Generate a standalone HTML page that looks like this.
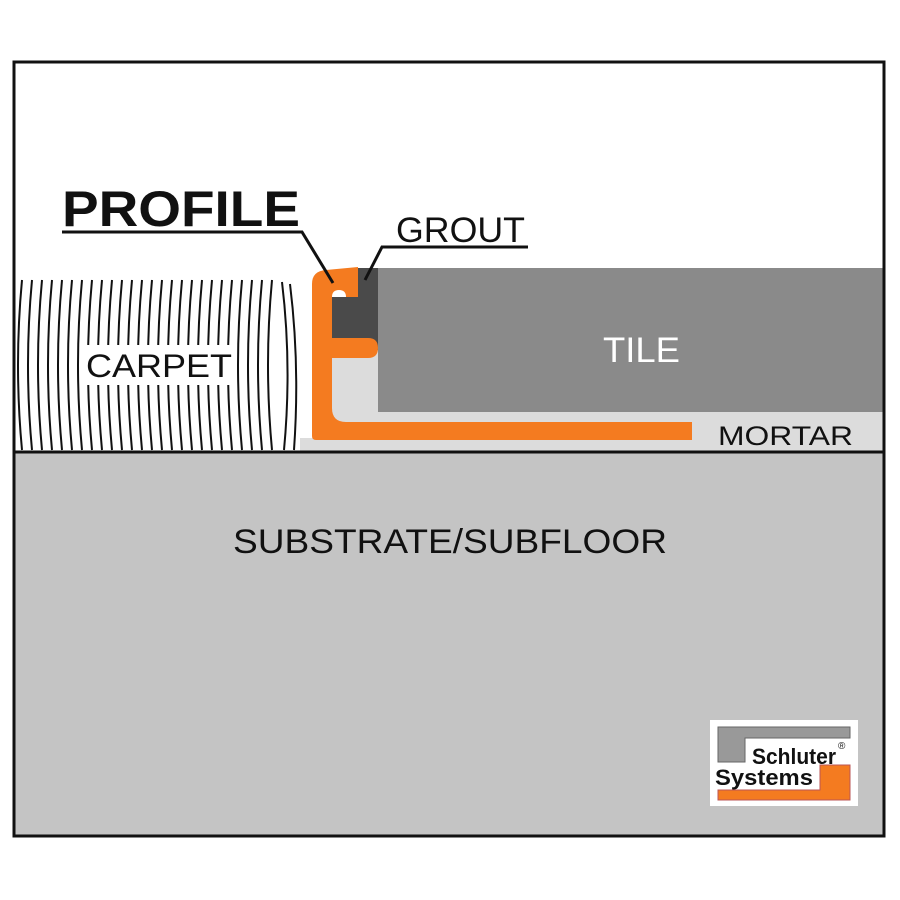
<!DOCTYPE html>
<html><head><style>body{margin:0;background:#fff}svg{display:block}</style></head><body>
<svg width="900" height="900" viewBox="0 0 900 900" xmlns="http://www.w3.org/2000/svg" font-family="Liberation Sans, sans-serif">
<rect x="0" y="0" width="900" height="900" fill="#fff"/>
<rect x="14" y="452" width="870" height="384" fill="#c4c4c4"/>
<rect x="332" y="350" width="552" height="102" fill="#dcdcdc"/>
<rect x="300" y="438" width="40" height="14" fill="#dcdcdc"/>
<rect x="378" y="268" width="506" height="144" fill="#8a8a8a"/>
<rect x="358" y="268" width="20" height="82" fill="#4a4a4a"/>
<path d="M332,297 L358,297 L358,338 L332,338 Z" fill="#4a4a4a"/>
<path d="M326,270 L358,267 L358,297 L346,297 Q346,290 339,290 Q332,290 332,297 L332,338 L368,338 Q378,338 378,348 Q378,358 368,358 L332,358 L332,408 Q332,422 346,422 L692,422 L692,440 L316,440 Q312,440 312,436 L312,284 Q312,271 326,270 Z" fill="#f47b20"/>
<g fill="none" stroke="#111" stroke-width="2">
<path d="M22,280 Q14,365 22,450"/><path d="M32,280 Q24,365 32,450"/><path d="M42,280 Q34,365 42,450"/><path d="M52,280 Q44,365 52,450"/><path d="M62,280 Q54,365 62,450"/><path d="M72,280 Q64,365 72,450"/><path d="M82,280 Q74,365 82,450"/><path d="M92,280 Q84,365 92,450"/><path d="M102,280 Q94,365 102,450"/><path d="M112,280 Q104,365 112,450"/><path d="M122,280 Q114,365 122,450"/><path d="M132,280 Q124,365 132,450"/><path d="M142,280 Q134,365 142,450"/><path d="M152,280 Q144,365 152,450"/><path d="M162,280 Q154,365 162,450"/><path d="M172,280 Q164,365 172,450"/><path d="M182,280 Q174,365 182,450"/><path d="M192,280 Q184,365 192,450"/><path d="M202,280 Q194,365 202,450"/><path d="M212,280 Q204,365 212,450"/><path d="M222,280 Q214,365 222,450"/><path d="M232,280 Q224,365 232,450"/><path d="M242,280 Q234,365 242,450"/><path d="M252,280 Q244,365 252,450"/><path d="M262,280 Q254,365 262,450"/><path d="M272,280 Q264,365 272,450"/><path d="M282,282 Q292,365 284,450"/><path d="M290,284 Q300,365 294,450"/>
</g>
<rect x="82" y="345" width="154" height="40" fill="#fff"/>
<text x="86" y="377" font-size="32" fill="#111" textLength="146" lengthAdjust="spacingAndGlyphs">CARPET</text>
<rect x="14" y="62" width="870" height="774" fill="none" stroke="#111" stroke-width="3"/>
<line x1="14" y1="452" x2="884" y2="452" stroke="#111" stroke-width="3"/>
<text x="62" y="226" font-size="50" font-weight="bold" fill="#111" textLength="238" lengthAdjust="spacingAndGlyphs">PROFILE</text>
<polyline points="62,232 302,232 333,283" fill="none" stroke="#111" stroke-width="3"/>
<text x="396" y="242" font-size="35" fill="#111" textLength="129" lengthAdjust="spacingAndGlyphs">GROUT</text>
<polyline points="528,247 382,247 365,280" fill="none" stroke="#111" stroke-width="3"/>
<text x="603" y="362" font-size="35" fill="#fff" textLength="77" lengthAdjust="spacingAndGlyphs">TILE</text>
<text x="718" y="445" font-size="27" fill="#111" textLength="135" lengthAdjust="spacingAndGlyphs">MORTAR</text>
<text x="233" y="553" font-size="34" fill="#111" textLength="434" lengthAdjust="spacingAndGlyphs">SUBSTRATE/SUBFLOOR</text>
<rect x="710" y="720" width="148" height="86" fill="#fff"/>
<path d="M718,727 L850,727 L850,738 L745,738 L745,762 L718,762 Z" fill="#999" stroke="#666"/>
<path d="M820,765 L850,765 L850,800 L718,800 L718,790 L820,790 Z" fill="#f47b20" stroke="#b55"/>
<text x="752" y="764" font-size="22" font-weight="bold" fill="#111" textLength="84" lengthAdjust="spacingAndGlyphs">Schluter</text>
<text x="715" y="785" font-size="22" font-weight="bold" fill="#111" textLength="98" lengthAdjust="spacingAndGlyphs">Systems</text>
<text x="838" y="749" font-size="10" fill="#111">®</text>
</svg>
</body></html>
